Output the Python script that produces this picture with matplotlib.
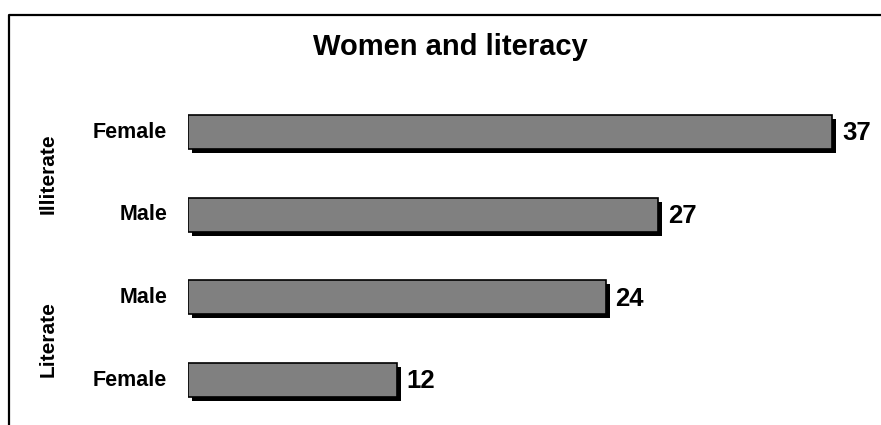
"""Women and literacy: horizontal bars with drop shadows."""

import matplotlib

matplotlib.use("Agg", force=True)
import matplotlib.pyplot as plt  # noqa: E402
from matplotlib.lines import Line2D  # noqa: E402
from matplotlib.transforms import ScaledTranslation  # noqa: E402

# bottom to top
categories = ["Female", "Male", "Male", "Female"]
groups = ["Literate", "Literate", "Illiterate", "Illiterate"]
values = [12, 24, 27, 37]
title = "Women and literacy"

FONT = ["Liberation Sans", "DejaVu Sans"]
NARROW = ["Liberation Sans Narrow", "Liberation Sans", "DejaVu Sans"]

W, H, dpi = 881, 425, 100
fig = plt.figure(figsize=(W / dpi, H / dpi), dpi=dpi)
fig.patch.set_facecolor("white")

# bars start at x=188px; rows are ~82.7px apart
ax = fig.add_axes([188 / W, 0, (W - 188) / W, 1])
ax.set_axis_off()
ax.set_xlim(0, 39.8)
ax.set_ylim(-0.544, 4.597)

pos = list(range(len(values)))
shadow = ax.transData + ScaledTranslation(4 / dpi, -4 / dpi, fig.dpi_scale_trans)
ax.barh(pos, values, height=0.41, left=0, color="black", transform=shadow, zorder=1)
ax.barh(pos, values, height=0.41, left=0, color="#808080", edgecolor="black",
        linewidth=1.2, zorder=2)

for p, v, c in zip(pos, values, categories):
    ax.annotate(str(v), (v, p), xytext=(7, -1), textcoords="offset points",
                ha="left", va="center", fontsize=18.5, fontweight="bold",
                family=FONT, color="black")
    ax.annotate(c, (0, p), xytext=(-15, 0), textcoords="offset points",
                ha="right", va="center", fontsize=15.5, fontweight="bold",
                family=FONT, color="black")

# group labels, centred on each pair of rows
for g in dict.fromkeys(groups):
    ys = [p for p, gg in zip(pos, groups) if gg == g]
    yc = sum(ys) / len(ys)
    ypix = ax.transData.transform((0, yc))[1]
    fig.text(48 / W, ypix / H, g, rotation=90, ha="center", va="center",
             fontsize=15, fontweight="bold", family=NARROW)

fig.text(450 / W, 1 - 47 / H, title, ha="center", va="center",
         fontsize=21, fontweight="bold", family=FONT)

# chart-area frame, cut off at right and bottom
fig.add_artist(Line2D([9 / W, 9 / W, 1.0], [0, 1 - 15 / H, 1 - 15 / H],
                      color="black", linewidth=1.6, transform=fig.transFigure))

fig.savefig("out.png", dpi=dpi, facecolor="white")
